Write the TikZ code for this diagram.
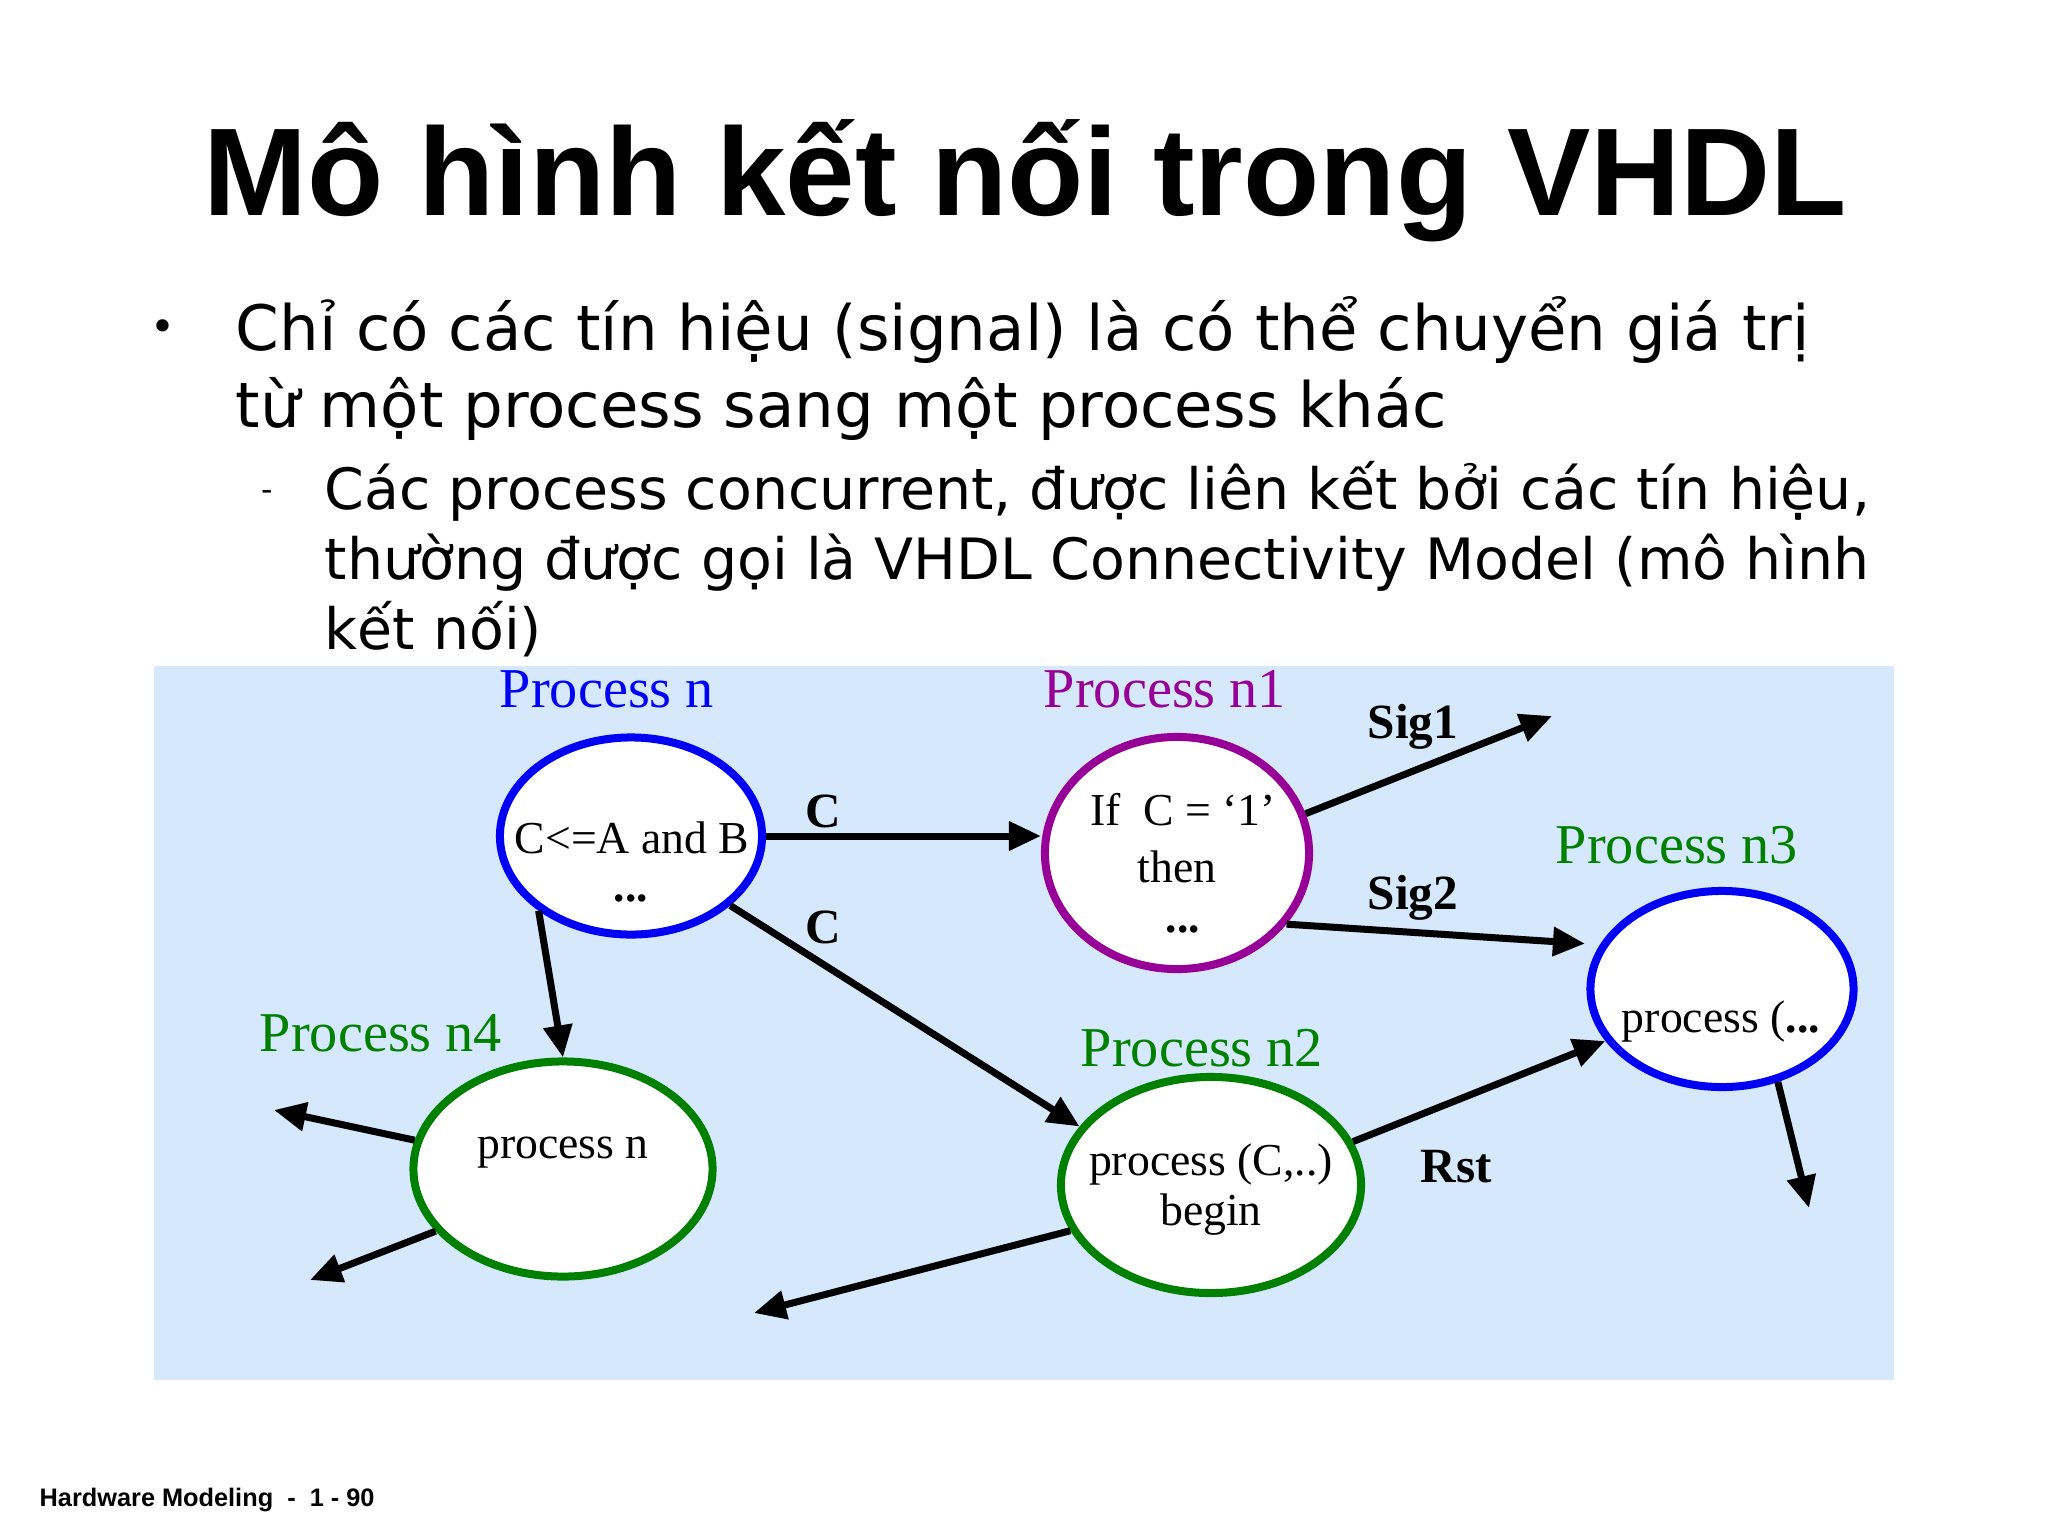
\documentclass[tikz,border=0pt]{standalone}
\usepackage{fontspec}
\setmainfont{Liberation Serif}
\newfontfamily\titlefont{Liberation Sans}
\newfontfamily\bodyfont{DejaVu Sans}
\usetikzlibrary{arrows.meta, positioning, shapes.geometric}
\definecolor{bgblue}{RGB}{213,232,252}
\definecolor{procblue}{RGB}{0,0,245}
\definecolor{procpurple}{RGB}{150,0,150}
\definecolor{procgreen}{RGB}{0,128,0}

\begin{document}
\begin{tikzpicture}[x=0.01cm, y=-0.01cm, every node/.style={inner sep=0pt},
    sigarrow/.style={-{Triangle[length=0.32cm,width=0.28cm]}, line width=0.07cm}]
  \tikzstyle{nodeB}=[ellipse,line width=0.08cm,draw=procblue,fill=white]
  \tikzstyle{nodeP}=[ellipse,line width=0.08cm,draw=procpurple,fill=white]
  \tikzstyle{nodeG}=[ellipse,line width=0.08cm,draw=procgreen,fill=white]
  \tikzstyle{procname}=[anchor=base,font=\fontsize{16}{19}\selectfont]
  \tikzstyle{proctxt}=[anchor=base,font=\fontsize{13}{15}\selectfont]
  \tikzstyle{signame}=[anchor=base,font=\fontsize{14}{17}\selectfont\bfseries]
  \tikzstyle{bodyA}=[anchor=base west,font=\bodyfont\fontsize{17.8}{21}\selectfont]
  \tikzstyle{bodyB}=[anchor=base west,font=\bodyfont\fontsize{16.2}{19}\selectfont]

  \useasboundingbox (0,0) rectangle (2048,1536);

  % Slide text
  \node[anchor=base, font=\titlefont\fontsize{35.5}{40}\selectfont\bfseries] (title) at (1025,215) {Mô hình kết nối trong VHDL};
  \node[anchor=center, font=\bodyfont\fontsize{12}{14}\selectfont] (dot1) at (163,331) {•};
  \node[bodyA] (b1a) at (235,350) {Chỉ có các tín hiệu (signal) là có thể chuyển giá trị};
  \node[bodyA] (b1b) at (235,427) {từ một process sang một process khác};
  \node[anchor=base west, font=\bodyfont\fontsize{9}{11}\selectfont] (dash1) at (261,500) {-};
  \node[bodyB] (b2a) at (324,509) {Các process concurrent, được liên kết bởi các tín hiệu,};
  \node[bodyB] (b2b) at (324,579) {thường được gọi là VHDL Connectivity Model (mô hình};
  \node[bodyB] (b2c) at (324,649) {kết nối)};

  \fill[bgblue] (154,666) rectangle (1894,1380);

  % Processes
  \node[nodeB, minimum width=2.62cm, minimum height=1.97cm] (pn)  at (631,836)  {};
  \node[nodeP, minimum width=2.64cm, minimum height=2.32cm] (pn1) at (1177,853) {};
  \node[nodeB, minimum width=2.63cm, minimum height=1.96cm] (pn3) at (1722,989) {};
  \node[nodeG, minimum width=2.99cm, minimum height=2.15cm] (pn4) at (563,1169) {};
  \node[nodeG, minimum width=3.00cm, minimum height=2.16cm] (pn2) at (1211,1185) {};

  \node[procname, text=procblue]   (pn-name)  at (607,707)   {Process n};
  \node[procname, text=procpurple] (pn1-name) at (1165,707)  {Process n1};
  \node[procname, text=procgreen]  (pn3-name) at (1677,863)  {Process n3};
  \node[procname, text=procgreen]  (pn4-name) at (381,1051)  {Process n4};
  \node[procname, text=procgreen]  (pn2-name) at (1202,1066) {Process n2};

  \node[proctxt] (pn-txt)   at (632,853)   {C<=A and B};
  \node[proctxt] (pn-dots)  at (631,901)   {\textbf{...}};
  \node[proctxt] (pn1-txt)  at (1183,825)  {If~ C = ‘1’};
  \node[proctxt] (pn1-then) at (1177,882)  {then};
  \node[proctxt] (pn1-dots) at (1183,932)  {\textbf{...}};
  \node[proctxt] (pn3-txt)  at (1721,1032) {process (\textbf{...}};
  \node[proctxt] (pn4-txt)  at (563,1158)  {process n};
  \node[proctxt] (pn2-txt)  at (1211,1175) {process (C,..)};
  \node[proctxt] (pn2-beg)  at (1211,1225) {begin};

  % Signals
  \node[signame] (c-top) at (823,827)   {C};
  \node[signame] (c-low) at (823,943)   {C};
  \node[signame] (sig1)  at (1413,738)  {Sig1};
  \node[signame] (sig2)  at (1413,909)  {Sig2};
  \node[signame] (rst)   at (1456,1182) {Rst};

  \coordinate (sig1-end) at (1552,716);
  \coordinate (pn3-out)  at (1809,1208);
  \coordinate (pn4-outa) at (274,1110);
  \coordinate (pn4-outb) at (310,1280);
  \coordinate (pn2-out)  at (754,1313);

  \path[sigarrow] (pn.east) edge (pn.east -| pn1.west);
  \path[sigarrow] (pn.-35) edge (pn2.156);
  \path[sigarrow] (pn.219) edge (pn4.north);
  \path[sigarrow] (pn1.17) edge (sig1-end);
  \path[sigarrow] (pn1.-33) edge[shorten >=0.15cm] (pn3.160);
  \path[sigarrow] (pn2.17) edge (pn3.204);
  \path[sigarrow] (pn3.-59) edge (pn3-out);
  \path[sigarrow] (pn4.169) edge (pn4-outa);
  \path[sigarrow] (pn4.206) edge (pn4-outb);
  \path[sigarrow] (pn2.198) edge (pn2-out);

  \node[anchor=base west, font=\titlefont\fontsize{7.2}{9}\selectfont\bfseries] (footer) at (39,1506) {Hardware Modeling~~-~~1 - 90};
\end{tikzpicture}
\end{document}
